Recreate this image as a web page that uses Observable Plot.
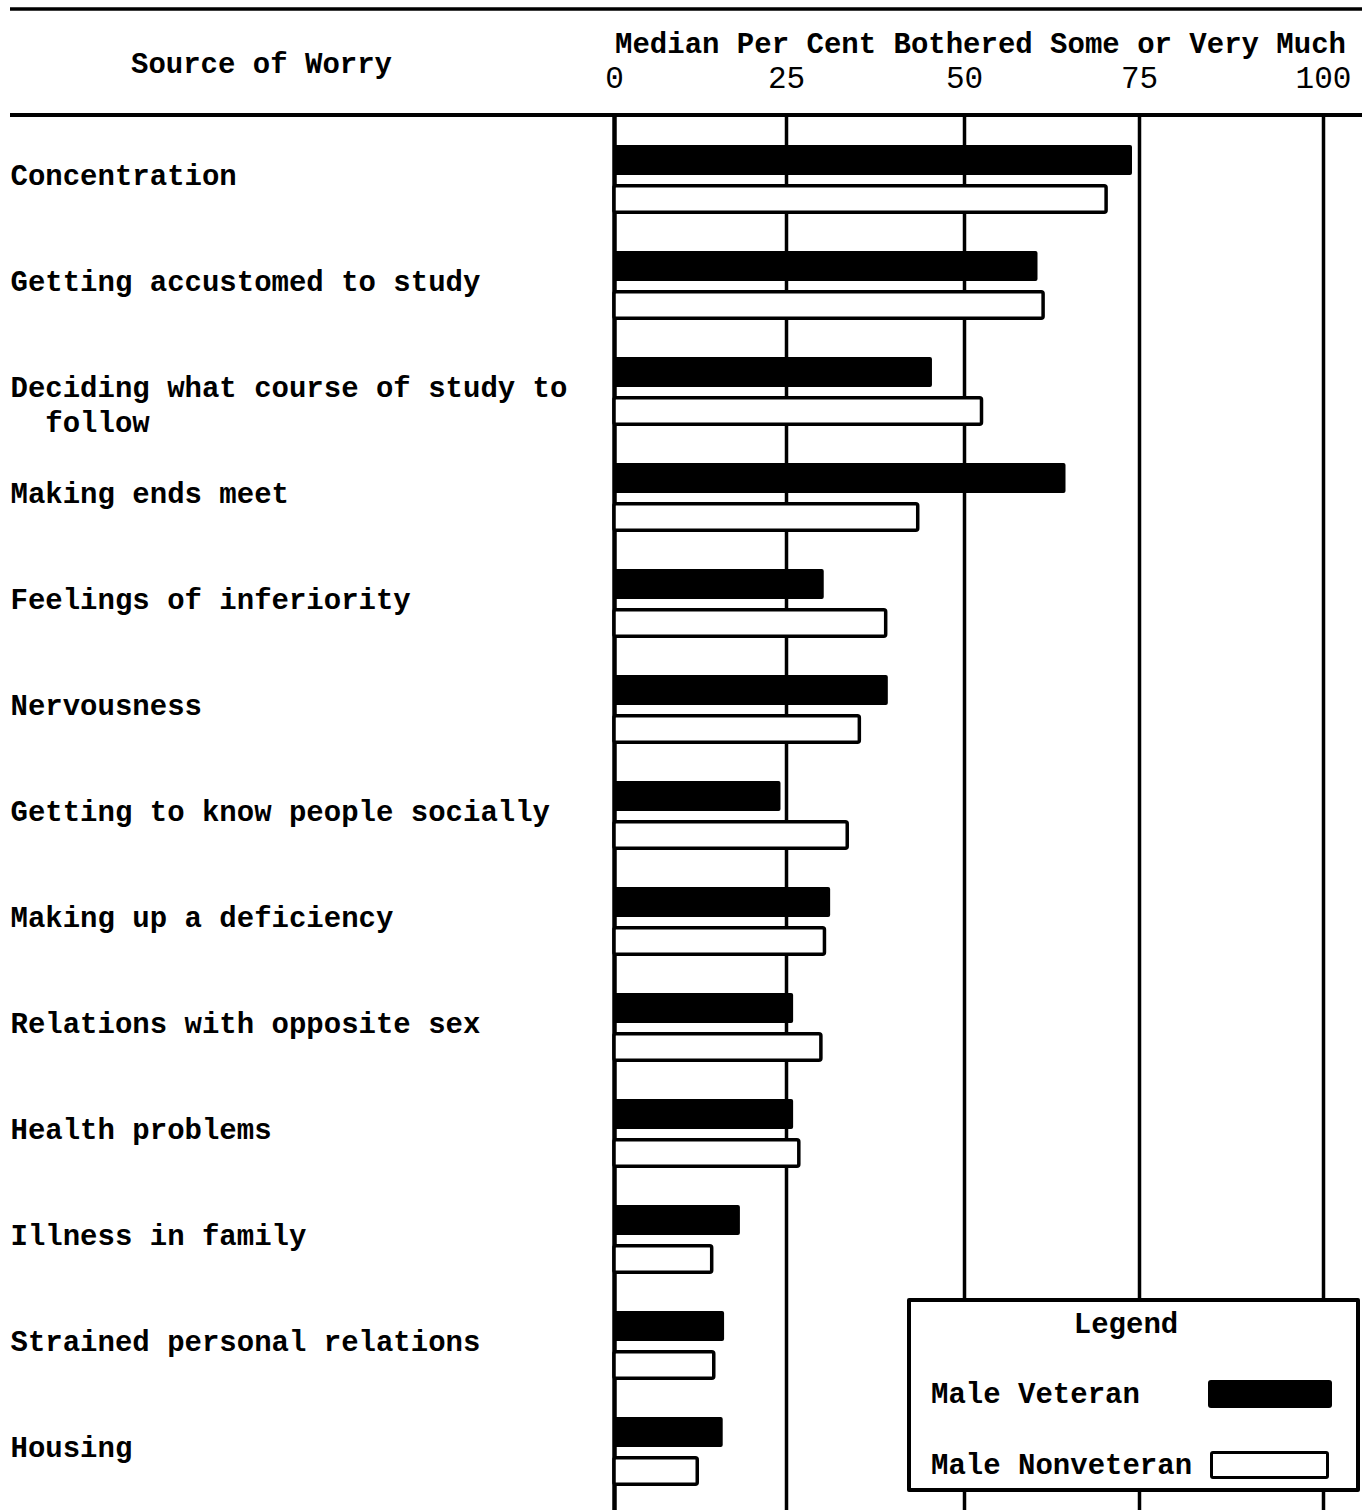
<!DOCTYPE html>
<html>
<head>
<meta charset="utf-8">
<script src="https://cdn.jsdelivr.net/npm/d3@7"></script>
<script src="https://cdn.jsdelivr.net/npm/@observablehq/plot@0.6"></script>
<style>
  html, body { margin: 0; padding: 0; background: white; }
  #wrap { position: relative; width: 1362px; height: 1510px; overflow: hidden; }
  .lg { position: absolute; font-family: "Liberation Mono", monospace; font-weight: bold; font-size: 29px; line-height: 29px; color: black; white-space: pre; }
</style>
</head>
<body>
<div id="wrap"></div>
<script>
const categories = [
  "Concentration",
  "Getting accustomed to study",
  "Deciding what course of study to follow",
  "Making ends meet",
  "Feelings of inferiority",
  "Nervousness",
  "Getting to know people socially",
  "Making up a deficiency",
  "Relations with opposite sex",
  "Health problems",
  "Illness in family",
  "Strained personal relations",
  "Housing"
];
const categoryLabels = [
  "Concentration",
  "Getting accustomed to study",
  "Deciding what course of study to\n\u00a0\u00a0follow",
  "Making ends meet",
  "Feelings of inferiority",
  "Nervousness",
  "Getting to know people socially",
  "Making up a deficiency",
  "Relations with opposite sex",
  "Health problems",
  "Illness in family",
  "Strained personal relations",
  "Housing"
];
const maleVeteran    = [74.0, 60.5, 45.5, 64.5, 30.3, 39.3, 24.2, 31.2, 26.0, 26.0, 18.3, 16.0, 15.8];
const maleNonveteran = [70.3, 61.3, 52.5, 43.5, 39.0, 35.3, 33.6, 30.4, 29.9, 26.8, 14.2, 14.5, 12.1];
const tickValues = [0, 25, 50, 75, 100];
const seriesNames = ["Male Veteran", "Male Nonveteran"];
const headerLeft = "Source of Worry";
const headerRight = "Median Per Cent Bothered Some or Very Much";

const rows = categories.map((c, i) => ({category: c, label: categoryLabels[i]}));
const bars = categories.flatMap((c, i) => [
  {category: c, series: seriesNames[0], value: maleVeteran[i]},
  {category: c, series: seriesNames[1], value: maleNonveteran[i]}
]);

const step = 106.1;
const firstTop = 144;
const font = "Liberation Mono";

const chart = Plot.plot({
  width: 1362,
  height: 1510,
  marginLeft: 614,
  marginRight: 39,
  marginTop: 115,
  marginBottom: 0,
  style: {fontFamily: font, background: "white", color: "black", overflow: "visible"},
  x: {type: "linear", domain: [0, 25, 50, 75, 100], range: [614, 786, 964, 1139, 1323]},
  y: {domain: categories, range: [firstTop, firstTop + categories.length * step], padding: 0, axis: null},
  marks: [
    Plot.axisX({anchor: "top", ticks: tickValues, tickSize: 0, tickPadding: 28, fontSize: 31, label: null, tickFormat: d => String(d)}),
    Plot.ruleX([0], {stroke: "black", strokeWidth: 4.5}),
    Plot.ruleX(tickValues.slice(1), {stroke: "black", strokeWidth: 3.5}),
    Plot.barX(bars.filter(d => d.series === seriesNames[0]), {
      x: "value", y: "category", fill: "black",
      insetTop: 0, insetBottom: step - 30, rx: 2
    }),
    Plot.barX(bars.filter(d => d.series === seriesNames[1]), {
      x: "value", y: "category", fill: "white", stroke: "black", strokeWidth: 3.5,
      insetTop: 40.75, insetBottom: step - 69 + 1.75, rx: 2
    }),
    Plot.text(rows, {
      y: "category", text: "label", frameAnchor: "left", textAnchor: "start", lineAnchor: "top",
      dx: -604, dy: 21.4 - step / 2 - 6.5, fontSize: 29, fontWeight: "bold", lineHeight: 1.2, fill: "black"
    }),
    Plot.text([headerLeft], {frameAnchor: "top-left", text: d => d, textAnchor: "middle", lineAnchor: "middle", dx: 261 - 614, dy: 63 - 115, fontSize: 29, fontWeight: "bold", fill: "black"}),
    Plot.text([headerRight], {frameAnchor: "top", text: d => d, textAnchor: "middle", lineAnchor: "middle", dx: 980 - 968.5, dy: 43 - 115, fontSize: 29, fontWeight: "bold", fill: "black"})
  ]
});

const svg = d3.select(chart);
svg.append("line").attr("x1", 10).attr("x2", 1362).attr("y1", 9).attr("y2", 9)
  .attr("stroke", "black").attr("stroke-width", 3.5);
svg.append("line").attr("x1", 10).attr("x2", 1362).attr("y1", 115).attr("y2", 115)
  .attr("stroke", "black").attr("stroke-width", 4);

const wrap = document.getElementById("wrap");
wrap.appendChild(chart);

// Legend box
const legend = document.createElement("div");
legend.style.cssText = "position:absolute;left:907px;top:1298px;width:445px;height:186px;border:4px solid black;background:white;border-radius:2px;";
wrap.appendChild(legend);
function addText(txt, left, centerY, extra) {
  const el = document.createElement("div");
  el.className = "lg";
  el.textContent = txt;
  el.style.left = left + "px";
  el.style.top = (centerY - 14.5) + "px";
  if (extra) el.style.cssText += extra;
  legend.appendChild(el);
  return el;
}
addText("Legend", 0, 23, "width:430px;text-align:center;");
addText(seriesNames[0], 20, 93);
addText(seriesNames[1], 20, 164);
const sw1 = document.createElement("div");
sw1.style.cssText = "position:absolute;left:297px;top:78px;width:124px;height:28px;background:black;border-radius:3px;";
legend.appendChild(sw1);
const sw2 = document.createElement("div");
sw2.style.cssText = "position:absolute;left:299px;top:149px;width:113px;height:22px;background:white;border:3.5px solid black;border-radius:3px;";
legend.appendChild(sw2);
</script>
</body>
</html>
